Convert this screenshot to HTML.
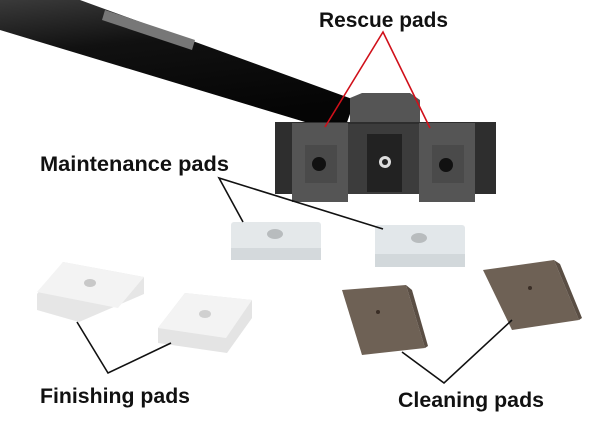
<!DOCTYPE html>
<html><head><meta charset="utf-8"><style>
html,body{margin:0;padding:0;background:#fff;width:600px;height:426px;overflow:hidden}
svg text{font-family:"Liberation Sans",sans-serif;font-weight:bold;font-size:21px;fill:#111}
</style></head><body>
<svg width="600" height="426" viewBox="0 0 600 426" xmlns="http://www.w3.org/2000/svg">
<defs>
<linearGradient id="h" x1="0" y1="0" x2="0.3" y2="1"><stop offset="0" stop-color="#3a3a3a"/><stop offset="0.4" stop-color="#111"/><stop offset="1" stop-color="#050505"/></linearGradient>
</defs>
<polygon points="0,0 80,0 355,100 345,128 315,125 0,30" fill="url(#h)"/>
<polygon points="105,10 195,40 192,50 102,20" fill="#777"/>
<polygon points="350,98 362,93 410,93 420,100 420,125 350,125" fill="#555"/>
<rect x="275" y="122" width="221" height="72" fill="#2e2e2e"/>
<rect x="292" y="123" width="56" height="79" fill="#555"/>
<rect x="419" y="123" width="56" height="79" fill="#555"/>
<rect x="348" y="124" width="71" height="70" fill="#3c3c3c"/>
<rect x="367" y="134" width="35" height="58" fill="#222"/>
<rect x="305" y="145" width="32" height="38" fill="#4a4a4a"/>
<rect x="432" y="145" width="32" height="38" fill="#4a4a4a"/>
<circle cx="319" cy="164" r="7" fill="#111"/>
<circle cx="446" cy="165" r="7" fill="#111"/>
<circle cx="385" cy="162" r="6" fill="#ddd"/>
<circle cx="385" cy="162" r="3" fill="#222"/>
<!-- maintenance pads -->
<rect x="231" y="222" width="90" height="38" rx="3" fill="#e4e8ea"/>
<rect x="231" y="248" width="90" height="12" fill="#d4d9dc"/>
<ellipse cx="275" cy="234" rx="8" ry="5" fill="#b8bcbe"/>
<rect x="375" y="225" width="90" height="42" rx="3" fill="#e2e7ea"/>
<rect x="375" y="254" width="90" height="13" fill="#d2d8db"/>
<ellipse cx="419" cy="238" rx="8" ry="5" fill="#b8bcbe"/>
<!-- finishing pads -->
<polygon points="37,294 63,262 144,277 144,294 79,322 37,310" fill="#e6e6e6"/>
<polygon points="37,292 63,262 144,277 118,308" fill="#f3f3f3"/>
<ellipse cx="90" cy="283" rx="6" ry="4" fill="#c8c8c8"/>
<polygon points="158,328 185,293 252,300 252,318 227,353 158,343" fill="#e4e4e4"/>
<polygon points="158,328 185,293 252,300 226,338" fill="#f3f3f3"/>
<ellipse cx="205" cy="314" rx="6" ry="4" fill="#d0d0d0"/>
<!-- cleaning pads -->
<polygon points="342,290 406,285 425,348 362,355" fill="#6e6155"/>
<polygon points="406,285 412,290 428,346 425,348" fill="#5a4e44"/>
<polygon points="483,270 554,260 579,320 512,330" fill="#6e6155"/>
<polygon points="554,260 560,264 582,318 579,320" fill="#5a4e44"/>
<circle cx="378" cy="312" r="2" fill="#3a2e26"/>
<circle cx="530" cy="288" r="2" fill="#3a2e26"/>
<g stroke="#d0101a" stroke-width="1.6" fill="none">
<polyline points="325,127 383,32 430,128"/>
</g>
<g stroke="#111" stroke-width="1.6" fill="none">
<polyline points="243,222 219,178 383,229"/>
<polyline points="77,322 108,373 171,343"/>
<polyline points="402,352 444,383 512,320"/>
</g>
<text x="319" y="27" textLength="129" lengthAdjust="spacingAndGlyphs">Rescue pads</text>
<text x="40" y="171" textLength="189" lengthAdjust="spacingAndGlyphs">Maintenance pads</text>
<text x="40" y="403" textLength="150" lengthAdjust="spacingAndGlyphs">Finishing pads</text>
<text x="398" y="407" textLength="146" lengthAdjust="spacingAndGlyphs">Cleaning pads</text>
</svg>
</body></html>
